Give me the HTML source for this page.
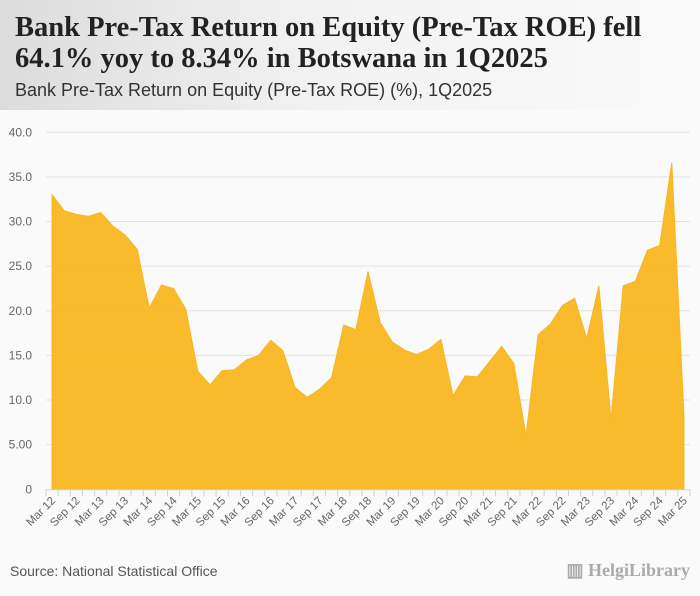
<!DOCTYPE html>
<html><head><meta charset="utf-8">
<style>
body{margin:0;width:700px;height:596px;background:#fafafa;font-family:"Liberation Sans",sans-serif;overflow:hidden;position:relative}
#hdr{position:absolute;left:0;top:0;width:700px;height:110px;background:linear-gradient(90deg,#dcdcdc 0%,#f2f2f2 45%,#fafafa 100%)}
#t{position:absolute;left:15px;top:12px;font:bold 28.5px/31px "Liberation Serif",serif;color:#222;width:670px}
#st{position:absolute;left:15px;top:80px;font:18px "Liberation Sans",sans-serif;color:#333}
#src{position:absolute;left:10px;top:563px;font:14px "Liberation Sans",sans-serif;color:#555}
#logo{position:absolute;right:10px;top:560px;font:bold 18px "Liberation Serif",serif;color:#aaa}
</style></head><body>
<div id="hdr"></div>
<div id="t">Bank Pre-Tax Return on Equity (Pre-Tax ROE) fell 64.1% yoy to 8.34% in Botswana in 1Q2025</div>
<div id="st">Bank Pre-Tax Return on Equity (Pre-Tax ROE) (%), 1Q2025</div>
<svg id="c" width="700" height="596" style="position:absolute;left:0;top:0"></svg>
<div id="src">Source: National Statistical Office</div>
<div id="logo">▥ HelgiLibrary</div>
<script>
const values=[33.0,31.2,30.8,30.6,31.0,29.5,28.5,26.9,20.3,22.9,22.5,20.2,13.2,11.7,13.3,13.4,14.5,15.0,16.7,15.5,11.4,10.3,11.2,12.5,18.4,17.9,24.4,18.7,16.5,15.6,15.1,15.7,16.8,10.5,12.7,12.6,14.3,16.0,14.1,6.0,17.3,18.5,20.6,21.4,16.9,22.8,7.8,22.8,23.3,26.8,27.3,36.6,8.34];
const yTicks=[0,5,10,15,20,25,30,35,40];
const yTickLabels=["0","5.00","10.0","15.0","20.0","25.0","30.0","35.0","40.0"];
const startYear=12;
const NS="http://www.w3.org/2000/svg";
const svg=document.getElementById('c');
const x0=46,x1=690,y0=489.3,yTop=132.3;
const n=values.length,bw=(x1-x0)/n;
const X=i=>x0+bw*(i+0.5);
const Y=v=>y0-(v/40)*(y0-yTop);
function mk(tag,attrs){const e=document.createElementNS(NS,tag);for(const k in attrs)e.setAttribute(k,attrs[k]);svg.appendChild(e);return e;}
yTicks.forEach((t,i)=>{
 if(t>0){const g=mk('line',{x1:x0,x2:x1,y1:Y(t),y2:Y(t),stroke:'#e3e3e3','stroke-width':1});
 
 }
 const tx=mk('text',{x:32,y:Y(t)+4,'text-anchor':'end','font-size':'12','fill':'#666','font-family':'Liberation Sans, sans-serif'});
 tx.textContent=yTickLabels[i];
 
 
});
let d=`M${X(0)},${y0}`;values.forEach((v,i)=>d+=`L${X(i)},${Y(v)}`);d+=`L${X(n-1)},${y0}Z`;
const area=mk('path',{d:d,fill:'#f9b820',stroke:'#f7b416','stroke-width':1,opacity:0.95});


const ax=mk('line',{x1:x0,x2:x1,y1:y0+0.5,y2:y0+0.5,stroke:'#c8d4e6'});


for(let i=0;i<=n;i++){const tk=mk('line',{x1:x0+bw*i,x2:x0+bw*i,y1:y0,y2:y0+7,stroke:'#c8d4e6'});
 
 }
for(let i=0;i<n;i+=2){
 const yr=startYear+Math.floor(i/4),lab=(i%4===0?'Mar ':'Sep ')+yr;
 const tx=mk('text',{x:0,y:0,'text-anchor':'end','font-size':'11.5','fill':'#666','font-family':'Liberation Sans, sans-serif',transform:`translate(${X(i)+4},${y0+12}) rotate(-45)`});
 tx.textContent=lab;
 
 
}
</script>
</body></html>
